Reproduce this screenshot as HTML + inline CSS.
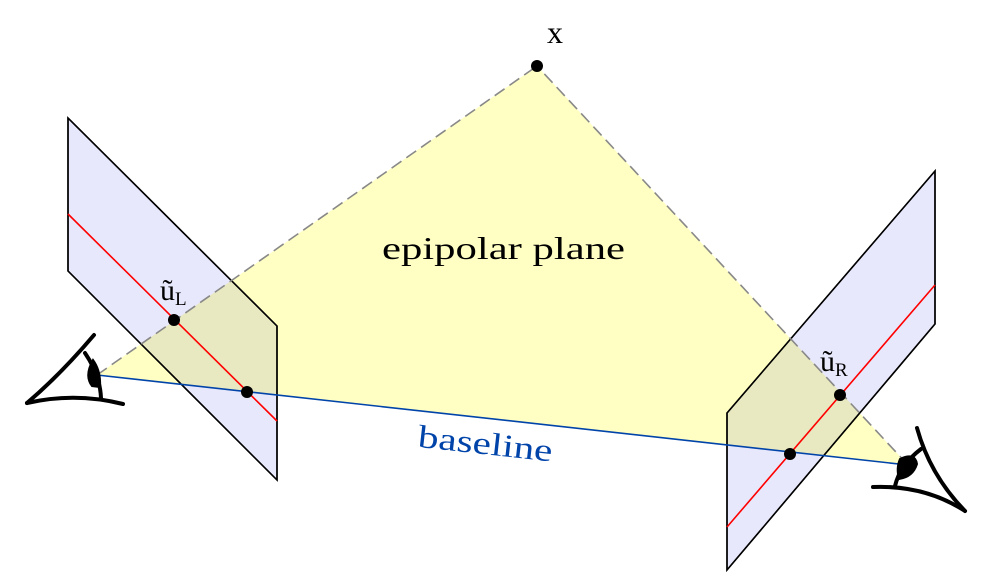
<!DOCTYPE html>
<html><head><meta charset="utf-8"><style>
html,body{margin:0;padding:0;background:#fff;}
svg{display:block;}
text{font-family:"Liberation Serif",serif;}
</style></head><body>
<svg width="1006" height="578" viewBox="0 0 1006 578">
<polygon points="97,375 537,66 908,465" fill="#ffffc4"/>
<g style="mix-blend-mode:multiply">
<polygon points="68,118 68,271 277,480 277,326" fill="#e8e8fc" stroke="#000" stroke-width="1.5"/>
<polygon points="727,413 727,570 935,324 935,171" fill="#e8e8fc" stroke="#000" stroke-width="1.5"/>
</g>
<polygon points="68,118 68,271 277,480 277,326" fill="none" stroke="#000" stroke-width="1.5"/>
<polygon points="727,413 727,570 935,324 935,171" fill="none" stroke="#000" stroke-width="1.5"/>
<line x1="68" y1="214" x2="277" y2="421" stroke="#f00" stroke-width="1.6"/>
<line x1="727" y1="527" x2="935" y2="285" stroke="#f00" stroke-width="1.6"/>
<line x1="97" y1="375" x2="537" y2="66" stroke="#888" stroke-width="1.6" stroke-dasharray="12,6"/>
<line x1="908" y1="465" x2="537" y2="66" stroke="#888" stroke-width="1.6" stroke-dasharray="12,6"/>
<line x1="97" y1="375" x2="908" y2="465" stroke="#0044aa" stroke-width="1.6"/>
<circle cx="537" cy="66" r="6"/>
<circle cx="174" cy="320" r="6"/>
<circle cx="247" cy="392" r="6"/>
<circle cx="840" cy="395" r="6"/>
<circle cx="790" cy="454" r="6"/>
<text x="547" y="43" font-size="32">x</text>
<text x="382" y="259" font-size="32" textLength="243" lengthAdjust="spacingAndGlyphs">epipolar plane</text>
<text x="160" y="300" font-size="30">ũ<tspan font-size="19" dy="5">L</tspan></text>
<text x="820" y="371" font-size="30">ũ<tspan font-size="19" dy="5">R</tspan></text>
<text x="416" y="454" font-size="32" fill="#0044aa" textLength="135" lengthAdjust="spacingAndGlyphs" transform="rotate(6.3 483 461)">baseline</text>
<g fill="none" stroke="#000" stroke-width="4" stroke-linecap="round">
<path d="M94,335 Q60,375 27,403"/>
<path d="M27,403 Q75,392 123,404"/>
<path d="M85,353 Q100,375 101,398"/>
<path d="M93,360 Q84,376 92,386 L100,387 Q101,371 93,360 Z" fill="#000" stroke-width="2"/>
</g>
<g fill="none" stroke="#000" stroke-width="4" stroke-linecap="round">
<path d="M917,428 Q930,475 965,511"/>
<path d="M873,487 Q925,485 965,511"/>
<path d="M921,449 Q900,465 895,486"/>
<path d="M900,459 Q915,452 917,464 Q913,477 899,479 Q896,468 900,459 Z" fill="#000" stroke-width="2"/>
</g>
</svg>
</body></html>
